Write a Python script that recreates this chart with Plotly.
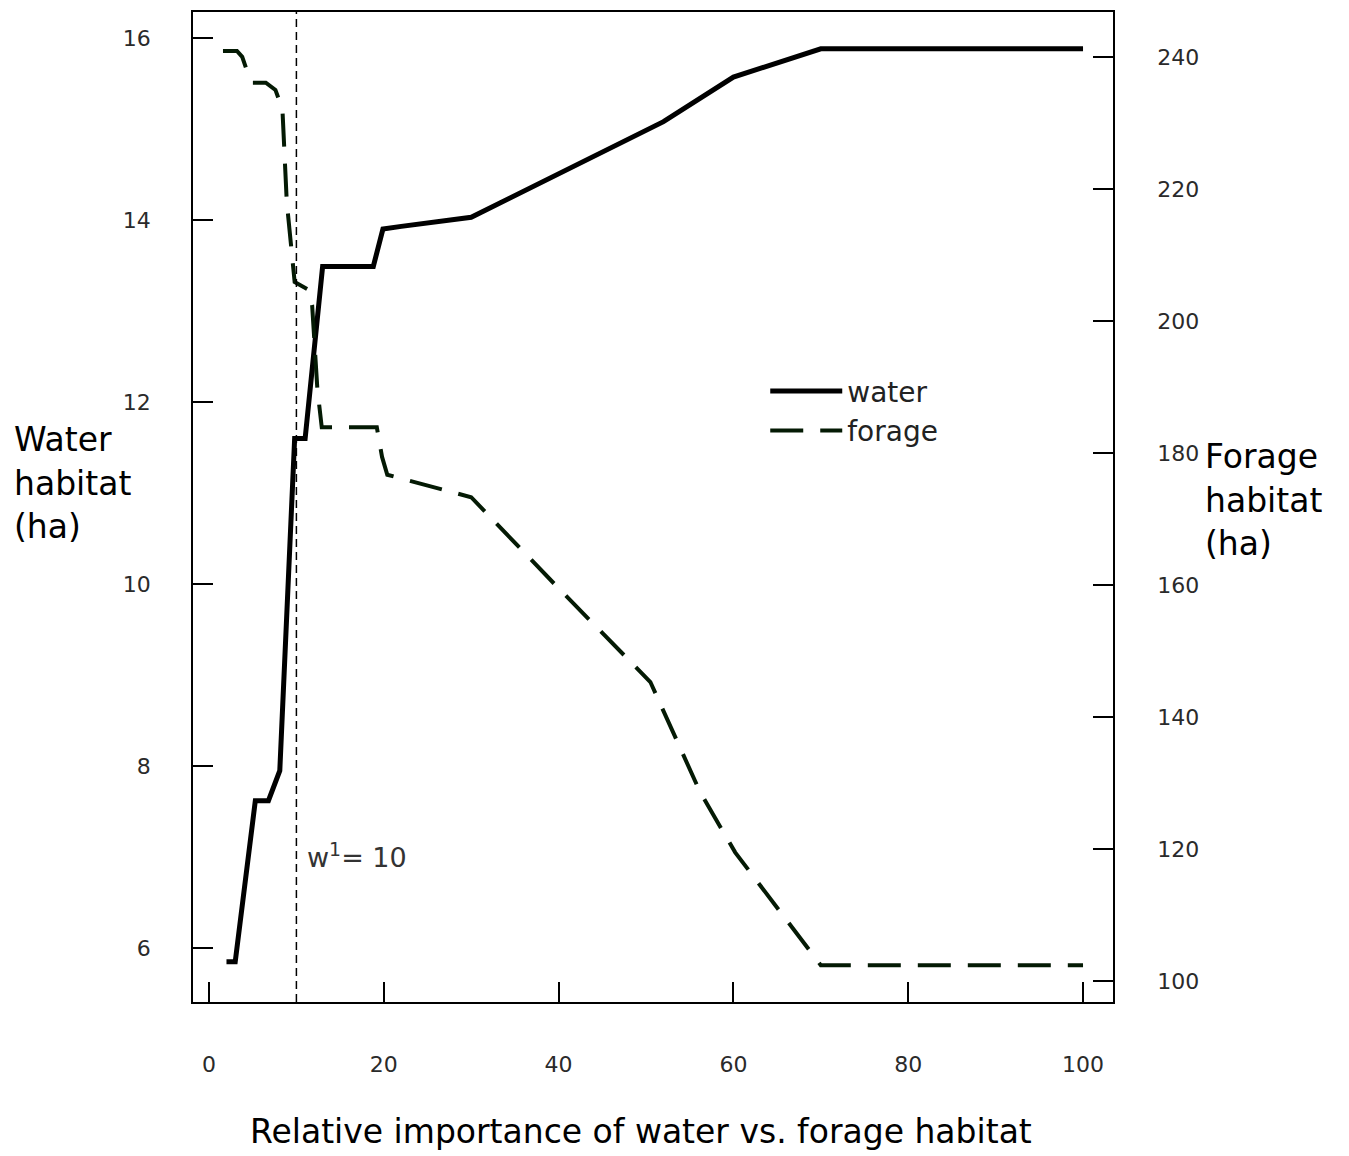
import plotly.graph_objects as go

# Data
x_water = [2, 3, 5.3, 6.8, 8.1, 9.8, 11, 13, 18.8, 19.9, 22, 30, 52, 60, 70, 100]
y_water = [5.85, 5.85, 7.62, 7.62, 7.95, 11.6, 11.6, 13.49, 13.49, 13.9, 13.93, 14.03, 15.08, 15.57, 15.88, 15.88]

x_forage = [1.6, 3.2, 3.8, 4.5, 5.0, 6.5, 7.6, 8.4, 8.9, 9.3, 9.8, 11.3, 11.8, 12.4, 12.9,
            19.2, 19.8, 20.4, 30, 40, 50.5, 56.2, 60.2, 70, 100]
y_forage = [240.9, 240.9, 240.0, 237.3, 236.1, 236.1, 235.0, 232.1, 218.0, 212.0, 205.9, 204.8, 202.4, 189.7, 183.9,
            183.9, 179.4, 176.7, 173.3, 159.5, 145.3, 128.6, 119.5, 102.4, 102.4]

x_ticks = [0, 20, 40, 60, 80, 100]
y_left_ticks = [6, 8, 10, 12, 14, 16]
y_right_ticks = [100, 120, 140, 160, 180, 200, 220, 240]
w_threshold = 10

FONT = "DejaVu Sans, Arial, sans-serif"

# plot area in pixels
L, R, T, B = 193, 236, 10, 154
W, H = 1349, 1156
PW, PH = W - L - R, H - T - B


def px(x):
    return (x - L) / PW


def py(y):
    return 1 - (y - T) / PH


fig = go.Figure()
fig.add_trace(go.Scatter(x=x_water, y=y_water, mode="lines", name="water",
                         line=dict(color="black", width=5), yaxis="y"))
fig.add_trace(go.Scatter(x=x_forage, y=y_forage, mode="lines", name="forage",
                         line=dict(color="#041a04", width=4, dash="33px,17px"), yaxis="y2"))

fig.add_shape(type="line", xref="x", yref="paper", x0=w_threshold, x1=w_threshold, y0=0, y1=1,
              line=dict(color="black", width=1.5, dash="8px,5px"))

axis_common = dict(showline=True, linecolor="black", linewidth=1.5, ticks="inside", ticklen=20,
                   tickwidth=1.5, tickcolor="black", showgrid=False, zeroline=False,
                   tickfont=dict(family=FONT, size=22, color="#2a2a2a"))

fig.update_layout(
    width=W, height=H,
    margin=dict(l=L, r=R, t=T, b=B),
    plot_bgcolor="white", paper_bgcolor="white",
    xaxis=dict(range=[-1.83, 103.43], tickvals=x_ticks, mirror=True, ticklabelstandoff=42, **axis_common),
    yaxis=dict(range=[5.408, 16.285], tickvals=y_left_ticks, ticklabelstandoff=36, **axis_common),
    yaxis2=dict(range=[96.83, 246.80], tickvals=y_right_ticks, overlaying="y", side="right",
                ticklabelstandoff=38, **axis_common),
    legend=dict(x=0.622, y=0.642, xanchor="left", yanchor="top", bgcolor="rgba(0,0,0,0)",
                font=dict(family=FONT, size=28, color="#222"), itemwidth=72, tracegroupgap=0),
    showlegend=True,
    font=dict(family=FONT),
)

fig.add_annotation(x=11, y=7.02, xref="x", yref="y", text="w<sup>1</sup>= 10", showarrow=False,
                   xanchor="left", yanchor="middle", font=dict(family=FONT, size=27, color="#333"))

for i, line in enumerate(["Water", "habitat", "(ha)"]):
    fig.add_annotation(x=px(12), y=py(438 + 44 * i), xref="paper", yref="paper", text=line,
                       showarrow=False, xanchor="left", yanchor="middle",
                       font=dict(family=FONT, size=33, color="black"))
for i, line in enumerate(["Forage", "habitat", "(ha)"]):
    fig.add_annotation(x=px(1203), y=py(455 + 44 * i), xref="paper", yref="paper", text=line,
                       showarrow=False, xanchor="left", yanchor="middle",
                       font=dict(family=FONT, size=33, color="black"))
fig.add_annotation(x=px(641), y=py(1132), xref="paper", yref="paper",
                   text="Relative importance of water vs. forage habitat",
                   showarrow=False, xanchor="center", yanchor="middle",
                   font=dict(family=FONT, size=33, color="black"))

fig.write_html("out.html")
